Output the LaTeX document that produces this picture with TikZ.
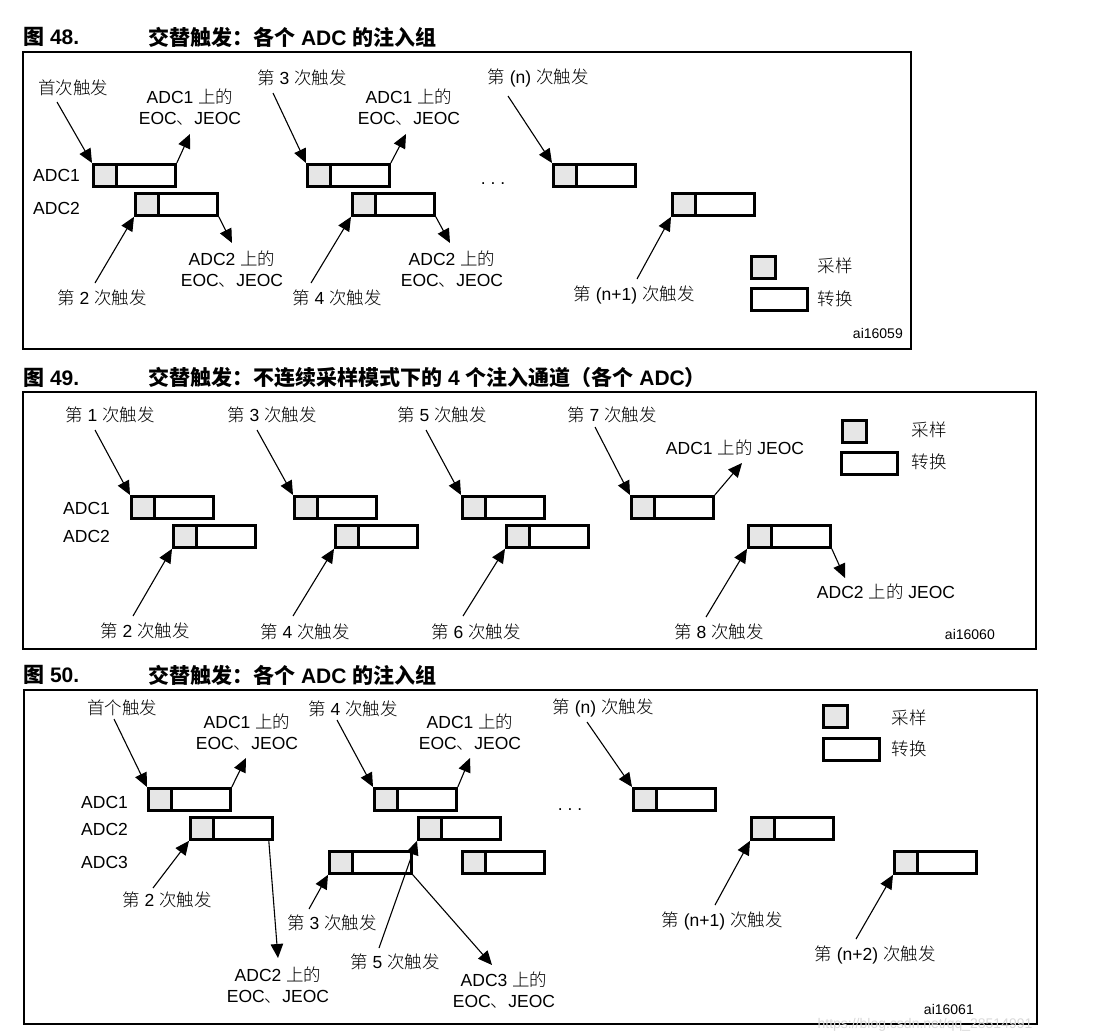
\documentclass[tikz,border=0pt]{standalone}
\usepackage{fontspec}
\setmainfont{Liberation Sans}
\newfontfamily\cjk{Noto Sans CJK SC}
\newfontfamily\cjklight{Noto Sans CJK SC Light}
\usepackage{tikz}
\usetikzlibrary{arrows.meta}
\definecolor{csamp}{RGB}{230,230,230}
\newcommand{\zh}[1]{{\cjklight #1}}
\newcommand{\zhb}[1]{{\cjk #1}}
\newcommand{\Trig}[1]{\zh{第} #1 \zh{次触发}}
\newcommand{\Eoc}[1]{#1 \zh{上的}\\EOC\zh{、}JEOC}
\newcommand{\Jeoc}[1]{#1 \zh{上的} JEOC}

\begin{document}
\begin{tikzpicture}[x=1pt,y=-1pt,
  conv/.style={draw, line width=2.8pt, anchor=north west, inner sep=0pt,
    minimum width=82pt, minimum height=22pt,
    path picture={
      \fill[csamp] (path picture bounding box.north west) rectangle ([xshift=23pt]path picture bounding box.south west);
      \draw[line width=2.8pt] ([xshift=23pt]path picture bounding box.north west) -- ([xshift=23pt]path picture bounding box.south west);}},
  sampkey/.style={draw, line width=2.8pt, fill=csamp, anchor=north west, inner sep=0pt, minimum width=24pt, minimum height=22pt},
  convkey/.style={draw, line width=2.8pt, anchor=north west, inner sep=0pt, minimum width=56pt, minimum height=22pt},
  trg/.style={-{Triangle[length=14pt,width=12.5pt]}, line width=1.1pt},
  lbl/.style={font=\fontsize{17.5}{20.5}\selectfont, align=center, inner sep=0pt},
  ttl/.style={font=\fontsize{21}{25}\selectfont\bfseries, anchor=west, inner sep=0pt},
  tag/.style={font=\fontsize{14}{16}\selectfont, anchor=east, inner sep=0pt},
  frm/.style={line width=1.6pt}]
\useasboundingbox (0,0) rectangle (1103,1033);

\node[ttl] (h48n) at (23,37) {\zhb{图} 48.};
\node[ttl] (h48) at (148,37) {\zhb{交替触发：各个} ADC \zhb{的注入组}};
\draw[frm] (23,52) rectangle (911,349);
\node[lbl,anchor=west] (r48a) at (33,175) {ADC1};
\node[lbl,anchor=west] (r48b) at (33,208) {ADC2};
\node[conv] (b48a) at (92,163) {};
\node[conv] (b48b) at (134,192) {};
\node[conv] (b48c) at (306,163) {};
\node[conv] (b48d) at (351,192) {};
\node[conv] (b48e) at (552,163) {};
\node[conv] (b48f) at (671,192) {};
\node[lbl] (l48a) at (73,88) {\zh{首次触发}};
\node[lbl] (l48b) at (102,298) {\Trig{2}};
\node[lbl] (l48c) at (302,78) {\Trig{3}};
\node[lbl] (l48d) at (337,298) {\Trig{4}};
\node[lbl] (l48e) at (538,78) {\Trig{(n)}};
\node[lbl] (l48f) at (634,295) {\Trig{(n+1)}};
\node[lbl] (e48a) at (190,107) {\Eoc{ADC1}};
\node[lbl] (e48b) at (232,269) {\Eoc{ADC2}};
\node[lbl] (e48c) at (409,107) {\Eoc{ADC1}};
\node[lbl] (e48d) at (452,269) {\Eoc{ADC2}};
\node[lbl] (dots48) at (493,184) {.\ .\ .};
\coordinate (s48a) at (57,102);
\coordinate (s48b) at (95,283);
\coordinate (s48c) at (273,93);
\coordinate (s48d) at (311,283);
\coordinate (s48e) at (508,96);
\coordinate (s48f) at (637,279);
\coordinate (p48a) at (190,134);
\coordinate (p48b) at (232,243);
\coordinate (p48c) at (406,134);
\coordinate (p48d) at (450,243);
\draw[trg] (s48a) -- (b48a.north west);
\draw[trg] (s48b) -- (b48b.south west);
\draw[trg] (s48c) -- (b48c.north west);
\draw[trg] (s48d) -- (b48d.south west);
\draw[trg] (s48e) -- (b48e.north west);
\draw[trg] (s48f) -- (b48f.south west);
\draw[trg] (b48a.north east) -- (p48a);
\draw[trg] (b48b.south east) -- (p48b);
\draw[trg] (b48c.north east) -- (p48c);
\draw[trg] (b48d.south east) -- (p48d);
\node[sampkey] (k48a) at (750,255) {};
\node[convkey] (k48b) at (750,287) {};
\node[lbl] (k48at) at (835,266) {\zh{采样}};
\node[lbl] (k48bt) at (835,299) {\zh{转换}};
\node[tag] (id48) at (903,333) {ai16059};

\node[ttl] (h49n) at (23,378) {\zhb{图} 49.};
\node[ttl] (h49) at (148,378) {\zhb{交替触发：不连续采样模式下的} 4 \zhb{个注入通道（各个} ADC\zhb{）}};
\draw[frm] (23,392) rectangle (1036,649);
\node[lbl,anchor=west] (r49a) at (63,508) {ADC1};
\node[lbl,anchor=west] (r49b) at (63,536) {ADC2};
\node[conv] (b49a) at (130,495) {};
\node[conv] (b49b) at (172,524) {};
\node[conv] (b49c) at (293,495) {};
\node[conv] (b49d) at (334,524) {};
\node[conv] (b49e) at (461,495) {};
\node[conv] (b49f) at (505,524) {};
\node[conv] (b49g) at (630,495) {};
\node[conv] (b49h) at (747,524) {};
\node[lbl] (l49a) at (110,415) {\Trig{1}};
\node[lbl] (l49b) at (145,631) {\Trig{2}};
\node[lbl] (l49c) at (272,415) {\Trig{3}};
\node[lbl] (l49d) at (305,632) {\Trig{4}};
\node[lbl] (l49e) at (442,415) {\Trig{5}};
\node[lbl] (l49f) at (476,632) {\Trig{6}};
\node[lbl] (l49g) at (612,415) {\Trig{7}};
\node[lbl] (l49h) at (719,632) {\Trig{8}};
\node[lbl] (e49a) at (735,448) {\Jeoc{ADC1}};
\node[lbl] (e49b) at (886,592) {\Jeoc{ADC2}};
\coordinate (s49a) at (95,430);
\coordinate (s49b) at (133,616);
\coordinate (s49c) at (257,430);
\coordinate (s49d) at (293,616);
\coordinate (s49e) at (426,430);
\coordinate (s49f) at (463,616);
\coordinate (s49g) at (595,427);
\coordinate (s49h) at (706,617);
\coordinate (p49a) at (742,463);
\coordinate (p49b) at (845,578);
\draw[trg] (s49a) -- (b49a.north west);
\draw[trg] (s49b) -- (b49b.south west);
\draw[trg] (s49c) -- (b49c.north west);
\draw[trg] (s49d) -- (b49d.south west);
\draw[trg] (s49e) -- (b49e.north west);
\draw[trg] (s49f) -- (b49f.south west);
\draw[trg] (s49g) -- (b49g.north west);
\draw[trg] (s49h) -- (b49h.south west);
\draw[trg] (b49g.north east) -- (p49a);
\draw[trg] (b49h.south east) -- (p49b);
\node[sampkey] (k49a) at (841,419) {};
\node[convkey] (k49b) at (840,451) {};
\node[lbl] (k49at) at (929,430) {\zh{采样}};
\node[lbl] (k49bt) at (929,462) {\zh{转换}};
\node[tag] (id49) at (995,634) {ai16060};

\node[ttl] (h50n) at (23,675) {\zhb{图} 50.};
\node[ttl] (h50) at (148,675) {\zhb{交替触发：各个} ADC \zhb{的注入组}};
\draw[frm] (24,690) rectangle (1037,1024);
\node[lbl,anchor=west] (r50a) at (81,802) {ADC1};
\node[lbl,anchor=west] (r50b) at (81,829) {ADC2};
\node[lbl,anchor=west] (r50c) at (81,862) {ADC3};
\node[conv] (b50a) at (147,787) {};
\node[conv] (b50b) at (189,816) {};
\node[conv] (b50c) at (373,787) {};
\node[conv] (b50d) at (417,816) {};
\node[conv] (b50e) at (328,850) {};
\node[conv] (b50f) at (461,850) {};
\node[conv] (b50g) at (632,787) {};
\node[conv] (b50h) at (750,816) {};
\node[conv] (b50i) at (893,850) {};
\node[lbl] (l50a) at (122,708) {\zh{首个触发}};
\node[lbl] (l50b) at (167,900) {\Trig{2}};
\node[lbl] (l50c) at (332,923) {\Trig{3}};
\node[lbl] (l50d) at (353,709) {\Trig{4}};
\node[lbl] (l50e) at (395,962) {\Trig{5}};
\node[lbl] (l50f) at (603,708) {\Trig{(n)}};
\node[lbl] (l50g) at (722,921) {\Trig{(n+1)}};
\node[lbl] (l50h) at (875,955) {\Trig{(n+2)}};
\node[lbl] (e50a) at (247,732) {\Eoc{ADC1}};
\node[lbl] (e50b) at (278,985) {\Eoc{ADC2}};
\node[lbl] (e50c) at (470,732) {\Eoc{ADC1}};
\node[lbl] (e50d) at (504,990) {\Eoc{ADC3}};
\node[lbl] (dots50) at (570,810) {.\ .\ .};
\coordinate (s50a) at (114,719);
\coordinate (s50b) at (153,888);
\coordinate (s50c) at (309,909);
\coordinate (s50d) at (337,720);
\coordinate (s50e) at (379,948);
\coordinate (s50f) at (587,722);
\coordinate (s50g) at (715,905);
\coordinate (s50h) at (856,939);
\coordinate (p50a) at (246,758);
\coordinate (p50b) at (278,958);
\coordinate (p50c) at (470,758);
\coordinate (p50d) at (492,965);
\draw[trg] (s50a) -- (b50a.north west);
\draw[trg] (s50b) -- (b50b.south west);
\draw[trg] (s50c) -- (b50e.south west);
\draw[trg] (s50d) -- (b50c.north west);
\draw[trg] (s50e) -- (b50d.south west);
\draw[trg] (s50f) -- (b50g.north west);
\draw[trg] (s50g) -- (b50h.south west);
\draw[trg] (s50h) -- (b50i.south west);
\draw[trg] (b50a.north east) -- (p50a);
\draw[trg] ([xshift=-5pt]b50b.south east) -- (p50b);
\draw[trg] (b50c.north east) -- (p50c);
\draw[trg] (b50e.south east) -- (p50d);
\node[sampkey] (k50a) at (822,704) {};
\node[convkey] (k50b) at (822,737) {};
\node[lbl] (k50at) at (909,718) {\zh{采样}};
\node[lbl] (k50bt) at (909,749) {\zh{转换}};
\node[tag] (id50) at (974,1009) {ai16061};
\node[lbl,text=black!15,font=\fontsize{14}{16}\selectfont] (wm) at (925,1025) {https://blog.csdn.net/qq\_28514991};
\end{tikzpicture}
\end{document}
